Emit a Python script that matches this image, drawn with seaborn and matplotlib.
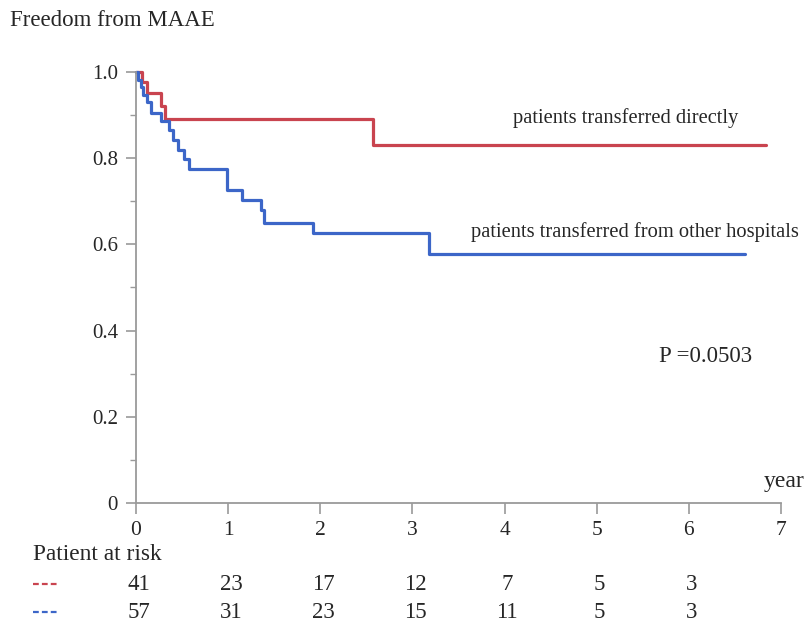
import numpy as np
import pandas as pd
import matplotlib
matplotlib.use("Agg")
import matplotlib.pyplot as plt
import matplotlib.transforms as mtransforms
from matplotlib.lines import Line2D
from matplotlib.ticker import MultipleLocator, FixedLocator, FixedFormatter
import seaborn as sns

# ---- data ----
direct_time = [0.0, 0.06, 0.12, 0.27, 0.315, 2.57, 6.84]
direct_surv = [1.0, 0.976, 0.951, 0.92, 0.89, 0.83, 0.83]

other_time = [0.0, 0.02, 0.05, 0.08, 0.12, 0.16, 0.27, 0.36, 0.40, 0.46, 0.52,
              0.58, 0.985, 1.15, 1.36, 1.39, 1.925, 3.18, 6.61]
other_surv = [1.0, 0.982, 0.965, 0.947, 0.93, 0.905, 0.886, 0.865, 0.842, 0.82,
              0.797, 0.776, 0.726, 0.703, 0.68, 0.65, 0.627, 0.578, 0.578]

group_names = ["patients transferred directly",
               "patients transferred from other hospitals"]
risk_years = [0, 1, 2, 3, 4, 5, 6]
risk_direct = [41, 23, 17, 12, 7, 5, 3]
risk_other = [57, 31, 23, 15, 11, 5, 3]
y_ticks = [0, 0.2, 0.4, 0.6, 0.8, 1.0]
y_labels = ["0", "0.2", "0.4", "0.6", "0.8", "1.0"]
x_ticks = [0, 1, 2, 3, 4, 5, 6, 7]

RED = "#c9444f"
BLUE = "#3c66c8"
GRAY = "#9a9a9a"

df = pd.concat([
    pd.DataFrame({"time": direct_time, "surv": direct_surv, "group": group_names[0]}),
    pd.DataFrame({"time": other_time, "surv": other_surv, "group": group_names[1]}),
], ignore_index=True)

sns.set_style("white")
plt.rcParams["font.family"] = ["Liberation Serif", "DejaVu Serif"]

fig = plt.figure(figsize=(8.08, 6.26), dpi=100)
ax = fig.add_axes([0.1683, 0.1965, 0.7983, 0.6885])

sns.lineplot(data=df, x="time", y="surv", hue="group", estimator=None,
             drawstyle="steps-post", palette={group_names[0]: RED, group_names[1]: BLUE},
             linewidth=2.3, ax=ax, legend=False, sort=False)
for ln in ax.lines:
    ln.set_clip_on(False)

ax.set_xlim(0, 7)
ax.set_ylim(0, 1.0)
ax.set_xlabel("")
ax.set_ylabel("")

for s in ["top", "right"]:
    ax.spines[s].set_visible(False)
for s in ["left", "bottom"]:
    ax.spines[s].set_color(GRAY)
    ax.spines[s].set_linewidth(1.3)

ax.xaxis.set_major_locator(FixedLocator(x_ticks))
ax.yaxis.set_major_locator(FixedLocator(y_ticks))
ax.yaxis.set_major_formatter(FixedFormatter(y_labels))
ax.yaxis.set_minor_locator(MultipleLocator(0.1))
ax.tick_params(axis="x", which="major", direction="out", length=8, width=1.2,
               color=GRAY, labelsize=15.5, pad=5, bottom=True)
ax.tick_params(axis="y", which="major", direction="out", length=7, width=1.2,
               color=GRAY, labelsize=15, pad=6, left=True)
ax.tick_params(axis="y", which="minor", direction="out", length=4, width=1.0,
               color=GRAY, left=True)

# annotations
fig.text(10 / 808, 1 - 20 / 626, "Freedom from MAAE", fontsize=16.5, ha="left", va="center")
ax.text(5.31, 0.893, group_names[0], fontsize=14.8, ha="center", va="center")
ax.text(3.64, 0.629, group_names[1], fontsize=14.8, ha="left", va="center")
ax.text(6.18, 0.339, "P =0.0503", fontsize=16.5, ha="center", va="center")
ax.text(7.26, 0.049, "year", fontsize=17, ha="right", va="center", clip_on=False)

# risk table
trans = mtransforms.blended_transform_factory(ax.transData, fig.transFigure)
fig.text(33 / 808, 1 - 555 / 626, "Patient at risk", fontsize=16.8, ha="left", va="center")
for yy, col in [(584, RED), (612, BLUE)]:
    fig.add_artist(Line2D([33 / 808, 57 / 808], [1 - yy / 626, 1 - yy / 626],
                          transform=fig.transFigure, color=col, linewidth=1.6,
                          linestyle=(0, (2.6, 1.4))))
for yr, a, b in zip(risk_years, risk_direct, risk_other):
    ax.text(yr + 0.03, 1 - 584 / 626, str(a), transform=trans, fontsize=16.5,
            ha="center", va="center", clip_on=False)
    ax.text(yr + 0.03, 1 - 612 / 626, str(b), transform=trans, fontsize=16.5,
            ha="center", va="center", clip_on=False)

fig.savefig("out.png", dpi=100)
